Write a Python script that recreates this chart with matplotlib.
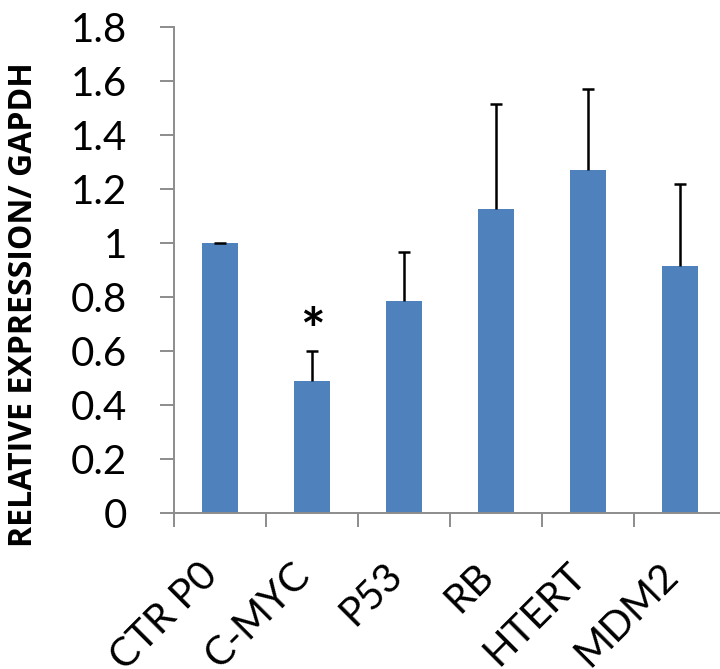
import matplotlib
matplotlib.use('Agg')
import matplotlib.pyplot as plt
from matplotlib.ticker import FixedLocator, NullFormatter, FixedFormatter
import matplotlib.transforms as mtransforms

genes = ['CTR P0', 'C-MYC', 'P53', 'RB', 'HTERT', 'MDM2']
expression = [1.0, 0.49, 0.785, 1.125, 1.27, 0.915]
error_up = [0.0, 0.11, 0.18, 0.39, 0.30, 0.304]
y_ticks = [0, 0.2, 0.4, 0.6, 0.8, 1, 1.2, 1.4, 1.6, 1.8]
y_tick_labels = ['0', '0.2', '0.4', '0.6', '0.8', '1', '1.2', '1.4', '1.6', '1.8']
star_gene = 1
star_y = 0.665

plt.rcParams['font.family'] = ['Lato', 'DejaVu Sans']

fig = plt.figure(figsize=(7.2, 6.69), dpi=100)
# axes run a little past the right edge, as in the cropped original
ax = fig.add_axes([174 / 720, (669 - 513) / 669, 552 / 720, 486 / 669])

x = list(range(len(genes)))
ax.bar(x, expression, width=0.39, color='#4F81BD', zorder=2)
_, caps, _ = ax.errorbar(x, expression, yerr=[[0] * len(genes), error_up],
                         fmt='none', ecolor='black', elinewidth=1.8,
                         capsize=4.5, capthick=1.8, zorder=3)
caps[0].set_visible(False)  # only the upper cap

ax.text(star_gene, star_y, '*', ha='center', va='center', fontsize=42,
        fontweight='bold')

ax.set_xlim(-0.5, len(genes) - 0.5)
ax.set_ylim(0, 1.8)

for side in ['top', 'right']:
    ax.spines[side].set_visible(False)
for side in ['left', 'bottom']:
    ax.spines[side].set_color('#8c8c8c')
    ax.spines[side].set_linewidth(1.4)

ax.set_yticks(y_ticks)
ax.set_yticklabels(y_tick_labels, fontsize=29)
ax.tick_params(axis='y', length=10, width=1.4, color='#8c8c8c', pad=24)

# major ticks at category borders, labels at centers
ax.xaxis.set_major_locator(FixedLocator([i - 0.5 for i in range(len(genes) + 1)]))
ax.xaxis.set_major_formatter(NullFormatter())
ax.xaxis.set_minor_locator(FixedLocator(x))
ax.xaxis.set_minor_formatter(FixedFormatter(genes))
ax.tick_params(axis='x', which='major', length=10, width=1.4, color='#8c8c8c')
ax.tick_params(axis='x', which='minor', length=0, pad=31, labelsize=29)
offset = mtransforms.ScaledTranslation(5 / 100, 0, fig.dpi_scale_trans)
for lab in ax.xaxis.get_minorticklabels():
    lab.set_rotation(45)
    lab.set_ha('right')
    lab.set_transform(lab.get_transform() + offset)

fig.text(24 / 720, 1 - 305 / 669, 'RELATIVE EXPRESSION/ GAPDH', rotation=90,
         ha='center', va='center', fontsize=23, fontweight='bold',
         family=['Open Sans', 'DejaVu Sans'])

fig.savefig('out.png', dpi=100)
